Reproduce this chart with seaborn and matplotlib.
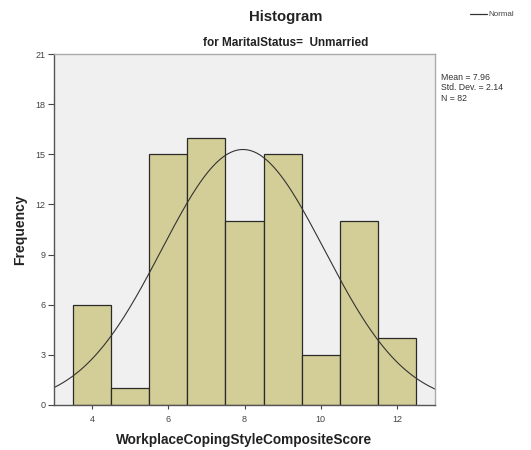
import numpy as np
import pandas as pd
import seaborn as sns
import matplotlib
matplotlib.use("Agg")
import matplotlib.pyplot as plt

# Data
scores = [4, 5, 6, 7, 8, 9, 10, 11, 12]
counts = [6, 1, 15, 16, 11, 15, 3, 11, 4]
mean_val = 7.96
sd_val = 2.14
n_val = 82
y_ticks = [0, 3, 6, 9, 12, 15, 18, 21]
x_ticks = [4, 6, 8, 10, 12]

sns.set_theme(style="white")
plt.rcParams['font.family'] = ['Liberation Sans', 'DejaVu Sans']

df = pd.DataFrame({"WorkplaceCopingStyleCompositeScore": scores, "count": counts})

fig = plt.figure(figsize=(5.31, 4.5), dpi=100)
ax = fig.add_axes([54/531, 1 - 405/450, 381/531, 351/450])
ax.set_facecolor("#F0F0F0")

sns.histplot(data=df, x="WorkplaceCopingStyleCompositeScore", weights="count",
             discrete=True, ax=ax, color="#D3CE97", alpha=1.0,
             edgecolor="#2A2A2A", linewidth=0.9)

# Normal curve
xs = np.linspace(3.0, 13.0, 300)
ys = n_val * 1.0 / (sd_val * np.sqrt(2 * np.pi)) * np.exp(-0.5 * ((xs - mean_val) / sd_val) ** 2)
ax.plot(xs, ys, color="#333333", linewidth=0.8)

ax.set_xlim(3.0, 13.0)
ax.set_ylim(0, 21)
ax.set_yticks(y_ticks)
ax.set_xticks(x_ticks)
ax.tick_params(axis="both", labelsize=6.5, labelcolor="#444444", colors="#444444",
               direction="out", length=4, width=0.8, pad=2, bottom=True, left=True)
ax.tick_params(axis="x", length=3, pad=4)
for s in ["top", "right"]:
    ax.spines[s].set_color("#AAAAAA")
    ax.spines[s].set_linewidth(1.0)
for s in ["left", "bottom"]:
    ax.spines[s].set_color("#555555")
    ax.spines[s].set_linewidth(1.0)

ax.set_xlabel("WorkplaceCopingStyleCompositeScore", fontsize=9.8, fontweight="bold",
              color="#222222", labelpad=7)
ax.set_ylabel("Frequency", fontsize=10, fontweight="bold", color="#222222", labelpad=6)

fig.text(286/531, 1 - 17/450, "Histogram", ha="center", va="center",
         fontsize=10.7, fontweight="bold", color="#222222")
fig.text(286/531, 1 - 43/450, "for MaritalStatus=  Unmarried", ha="center", va="center",
         fontsize=8.5, fontweight="bold", color="#222222")

fig.text(441/531, 1 - 88/450, "Mean = %.2f\nStd. Dev. = %.2f\nN = %d" % (mean_val, sd_val, n_val),
         ha="left", va="center", fontsize=6.3, color="#333333", linespacing=1.2)

# Legend
fig.lines.append(plt.Line2D([470/531, 487/531], [1 - 14/450, 1 - 14/450],
                            transform=fig.transFigure, color="#333333", linewidth=0.9))
fig.text(488/531, 1 - 14/450, "Normal", ha="left", va="center", fontsize=5.8, color="#444444")

fig.savefig("out.png", dpi=100)
